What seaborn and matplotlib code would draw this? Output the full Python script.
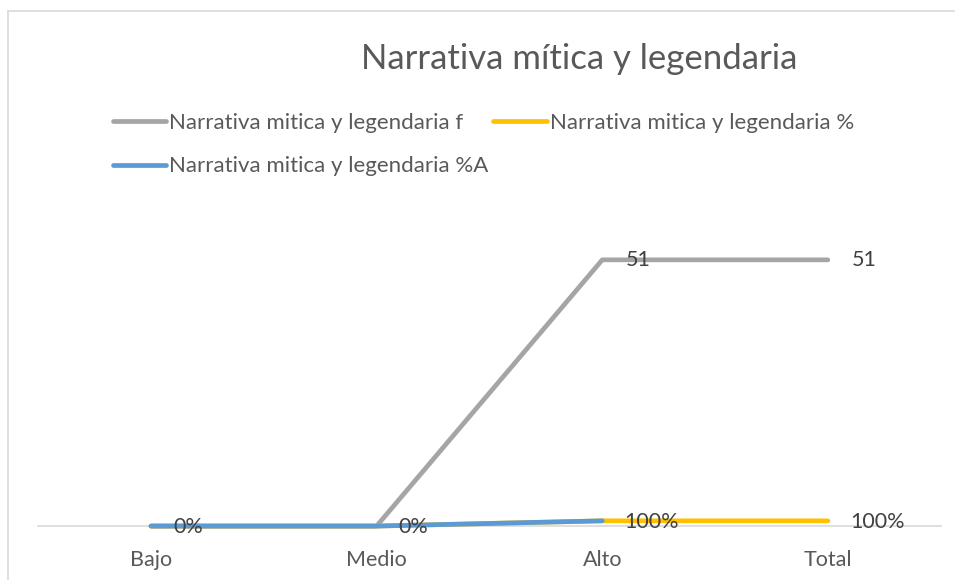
import matplotlib
matplotlib.use('Agg')
import matplotlib.pyplot as plt
from matplotlib.lines import Line2D
import numpy as np
import pandas as pd
import seaborn as sns

CATEGORIES = ['Bajo', 'Medio', 'Alto', 'Total']
SERIES_NAMES = [
    'Narrativa mitica y legendaria f',
    'Narrativa mitica y legendaria %',
    'Narrativa mitica y legendaria %A',
]
FREQ = [0, 0, 51, 51]
PCT = [0, 0, 1, 1]
PCT_ACC = [0, 0, 1, np.nan]
FREQ_LABELS = ['', '', '51', '51']
PCT_LABELS = ['0%', '0%', '100%', '100%']
COLORS = ['#A5A5A5', '#FFC000', '#5B9BD5']
TITLE = 'Narrativa mítica y legendaria'

sns.set_theme(style='white')
plt.rcParams['font.family'] = ['Lato', 'DejaVu Sans']

frames = []
for name, values in zip(SERIES_NAMES, (FREQ, PCT, PCT_ACC)):
    frames.append(pd.DataFrame({'Categoria': CATEGORIES, 'Valor': values, 'Serie': name}))
long = pd.concat(frames, ignore_index=True).dropna(subset=['Valor'])

fig = plt.figure(figsize=(9.55, 5.8), dpi=100)
ax = fig.add_axes([0.040, 0.093, 0.945, 0.54])

sns.lineplot(
    data=long, x='Categoria', y='Valor', hue='Serie', hue_order=SERIES_NAMES,
    palette=COLORS, linewidth=3.4, sort=False, ax=ax, legend=False,
    solid_capstyle='round',
)
for line in ax.get_lines():
    line.set_clip_on(False)

ax.set_xlim(-0.5, 3.5)
ax.set_ylim(0, 60)
ax.set_xlabel('')
ax.set_ylabel('')
ax.set_yticks([])
for side in ('left', 'right', 'top'):
    ax.spines[side].set_visible(False)
ax.spines['bottom'].set_color('#D9D9D9')
ax.spines['bottom'].set_linewidth(1.2)
ax.spines['bottom'].set_zorder(0)
ax.tick_params(axis='x', length=0, pad=17, labelsize=15.5, labelcolor='#595959')

# data labels, right of each point
for i, (val, lab) in enumerate(zip(FREQ, FREQ_LABELS)):
    if lab:
        ax.annotate(lab, (i, val), xytext=(17, 0), textcoords='offset points',
                    ha='left', va='center', fontsize=15.5, color='#404040')
for i, (val, lab) in enumerate(zip(PCT, PCT_LABELS)):
    ax.annotate(lab, (i, val), xytext=(16, -1), textcoords='offset points',
                ha='left', va='center', fontsize=15.5, color='#404040')

# legend filled row by row: f, % on the first row, %A on the second
order = [0, 2, 1]
handles = [Line2D([0], [0], color=COLORS[k], linewidth=3.4, solid_capstyle='round')
           for k in order]
labels = [SERIES_NAMES[k] for k in order]
fig.legend(handles, labels, loc='upper left', bbox_to_anchor=(0.118, 0.805),
           ncol=2, frameon=False, fontsize=16, labelcolor='#595959',
           handlelength=2.4, handletextpad=0.15, columnspacing=0.2, labelspacing=1.05,
           borderaxespad=0, borderpad=0)

fig.text(0.607, 0.898, TITLE, ha='center', va='center', fontsize=25, color='#595959')

# chart-area border (top and left visible)
fig.add_artist(Line2D([0.008, 1.0], [0.981, 0.981], color='#D9D9D9', linewidth=1.2,
                      transform=fig.transFigure))
fig.add_artist(Line2D([0.008, 0.008], [0.0, 0.981], color='#D9D9D9', linewidth=1.2,
                      transform=fig.transFigure))

fig.savefig('out.png', dpi=100)
